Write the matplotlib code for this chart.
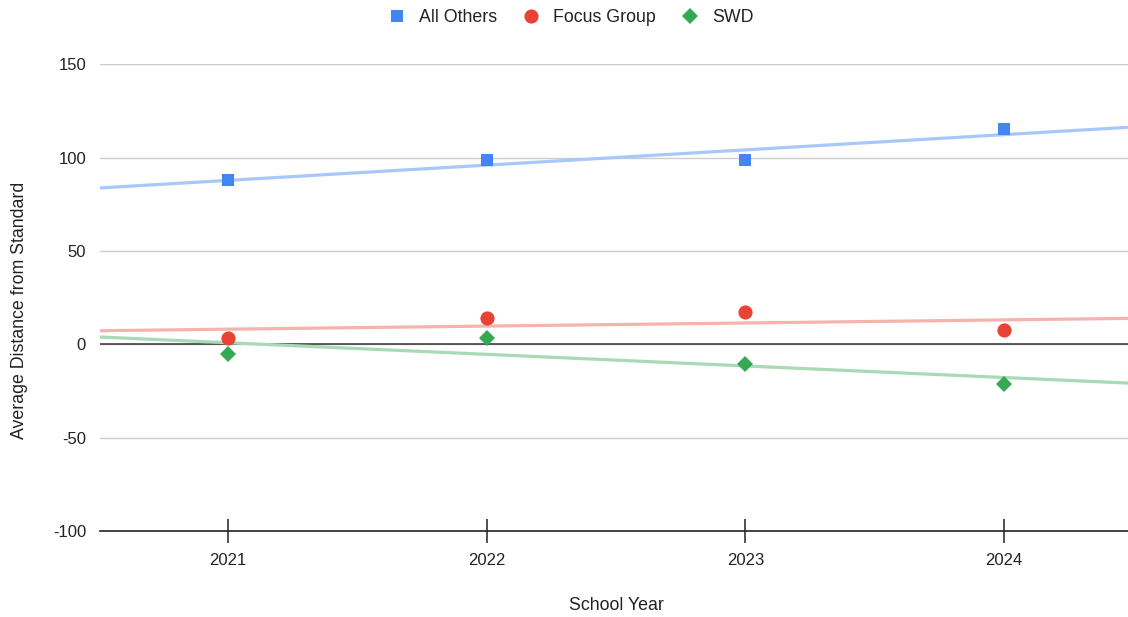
import numpy as np
import matplotlib
matplotlib.use("Agg")
import matplotlib.pyplot as plt

plt.rcParams['font.family'] = ['Liberation Sans', 'DejaVu Sans']
plt.rcParams['axes.unicode_minus'] = False

years = [2021, 2022, 2023, 2024]
all_others = [87.9, 98.7, 98.5, 115.2]
focus_group = [3.4, 14.0, 17.1, 7.9]
swd = [-5.4, 3.4, -10.4, -21.5]

series = [
    ("All Others", all_others, "#4285F4", "#A8C7FA", "s", 8.8),
    ("Focus Group", focus_group, "#EA4335", "#F5B3AC", "o", 10.2),
    ("SWD", swd, "#34A853", "#A8DAB5", "D", 8.6),
]

fig = plt.figure(figsize=(11.28, 6.17), dpi=100)
ax = fig.add_axes([100 / 1128, 86 / 617, 1 - 100 / 1128, (531 - 64.3) / 617])

x_lo = 2020.505
x_hi = x_lo + 1028 / 258.7
xs = np.array([x_lo, x_hi])

handles = []
for name, vals, col, trend_col, mk, ms in series:
    slope, intercept = np.polyfit(years, vals, 1)
    ax.plot(xs, slope * xs + intercept, color=trend_col, lw=2.3,
            zorder=3, solid_capstyle="butt")
    h, = ax.plot(years, vals, linestyle="none", marker=mk, markersize=ms,
                 color=col, markeredgewidth=0, zorder=4, label=name)
    handles.append(h)

ax.set_xlim(x_lo, x_hi)
ax.set_ylim(-100, 150)
ax.set_yticks([-100, -50, 0, 50, 100, 150])
ax.set_xticks(years)
ax.set_xticklabels([str(y) for y in years])

ax.grid(axis="y", color="#cccccc", lw=1.0, zorder=0)
ax.axhline(0, color="#333333", lw=1.1, zorder=2)
for s in ["left", "right", "top"]:
    ax.spines[s].set_visible(False)
ax.spines["bottom"].set_color("#222222")
ax.spines["bottom"].set_linewidth(1.2)
ax.spines["bottom"].set_zorder(5)

fs = 12
fs_title = 12.8
ax.tick_params(axis="y", length=0, pad=10, labelsize=fs, labelcolor="#222222")
ax.tick_params(axis="x", direction="inout", length=17, width=1.1,
               color="#222222", pad=7, labelsize=fs, labelcolor="#222222")

ax.set_ylabel("Average Distance from Standard", fontsize=fs_title, color="#222222")
ax.yaxis.set_label_coords((28 - 100) / 1028, (531 - 310) / (531 - 64.3))
ax.set_xlabel("School Year", fontsize=fs_title, color="#222222")
ax.xaxis.set_label_coords((616 - 100) / 1028, -(597 - 531) / (531 - 64.3))

fig.legend(handles=handles, loc="center", bbox_to_anchor=(571 / 1128, 1 - 18 / 617),
           ncol=3, frameon=False, fontsize=fs_title, handletextpad=0.75,
           columnspacing=1.4, handlelength=1.0, labelcolor="#222222")

fig.savefig("out.png", dpi=100, facecolor="white")
